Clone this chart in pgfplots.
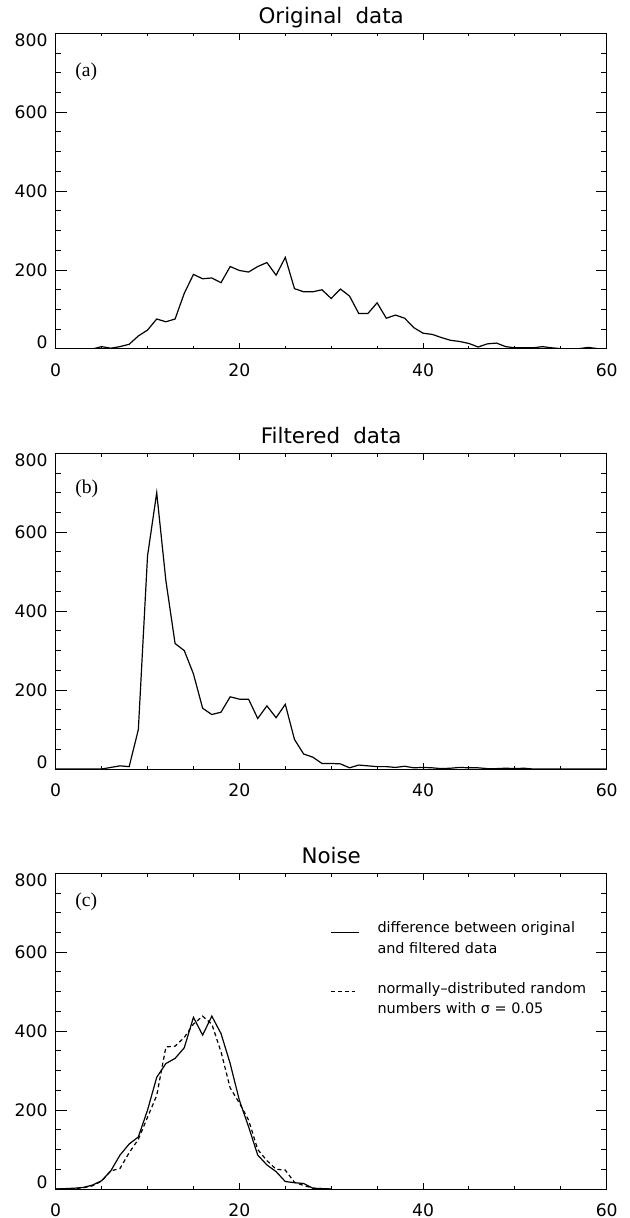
\documentclass[border=0pt]{standalone}
\usepackage{pgfplots}
\pgfplotsset{compat=1.18}
\usepackage{fontspec}
\setmainfont{DejaVu Sans}
\newfontfamily\timesfont{Liberation Serif}

% one pixel of the reference = 0.5pt
\pgfplotsset{
  idl/.style={
    scale only axis,
    width=275.5pt, height=157.85pt,
    anchor=south west,
    xmin=0, xmax=60, ymin=0, ymax=800,
    xtick={0,20,40,60}, ytick={0,200,400,600,800},
    minor x tick num=3, minor y tick num=3,
    tick align=inside, tick pos=both,
    axis line style={line width=0.5pt},
    tick style={black, line width=0.5pt},
    major tick length=5.5pt, minor tick length=2.75pt,
    major x tick style={/pgfplots/major tick length=3.15pt},
    minor x tick style={/pgfplots/minor tick length=1.6pt},
    /pgf/number format/assume math mode=true,
    tick label style={font=\fontsize{8.6}{10}\selectfont},
    xticklabel style={anchor=north, yshift=-3.9pt},
    yticklabel style={inner xsep=0pt, inner ysep=0pt, xshift=-3.9pt,
      anchor=\ifcase\ticknum south east\or east\or east\or east\else north east\fi},
    title style={font=\fontsize{10.7}{12}\selectfont, at={(0.5,1)}, anchor=base, yshift=-1pt},
  },
}
\tikzset{
  panel/.style={font=\timesfont\fontsize{9.8}{11}\selectfont, anchor=west, inner sep=0pt},
  leg/.style={font=\fontsize{7.2}{9}\selectfont, anchor=base west, inner sep=0pt},
}

\begin{document}
\begin{tikzpicture}
\useasboundingbox (0,0) rectangle (314.5pt,-609pt);

% (a) original data
\begin{axis}[idl, at={(27.85pt,-174.5pt)}, title={Original\hspace{0.3em} data}]
\addplot[black, line width=0.6pt] coordinates {
(0,0) (1,0) (2,0) (3,0) (4,0) (5,6) (6,2) (7,6) (8,12) (9,33) (10,48)
(11,76) (12,69) (13,76) (14,141) (15,189) (16,178) (17,180) (18,168) (19,209) (20,199)
(21,195) (22,209) (23,219) (24,187) (25,232) (26,153) (27,145) (28,145) (29,150) (30,128)
(31,152) (32,134) (33,90) (34,90) (35,117) (36,78) (37,86) (38,78) (39,54) (40,40)
(41,37) (42,29) (43,22) (44,19) (45,14) (46,5) (47,13) (48,15) (49,6) (50,3)
(51,3) (52,3) (53,6) (54,3) (55,1) (56,1) (57,1) (58,4) (59,1) (60,0)};
\node[panel] at (axis cs:2.1,703) {(a)};
\end{axis}

% (b) filtered data
\begin{axis}[idl, at={(27.85pt,-384.5pt)}, title={Filtered\hspace{0.3em} data}]
\addplot[black, line width=0.6pt] coordinates {
(0,0) (1,0) (2,0) (3,0) (4,0) (5,0) (6,4) (7,8) (8,6) (9,100) (10,540)
(11,700) (12,477) (13,318) (14,300) (15,241) (16,154) (17,138) (18,144) (19,183) (20,177)
(21,177) (22,128) (23,160) (24,130) (25,164) (26,75) (27,38) (28,30) (29,14) (30,14)
(31,13) (32,3) (33,10) (34,8) (35,6) (36,6) (37,4) (38,7) (39,3) (40,4)
(41,3) (42,1) (43,2) (44,4) (45,3) (46,3) (47,1) (48,1) (49,2) (50,1)
(51,2) (52,0) (53,0) (54,0) (55,0) (56,0) (57,0) (58,0) (59,0) (60,0)};
\node[panel] at (axis cs:2.1,711) {(b)};
\end{axis}

% (c) noise
\begin{axis}[idl, at={(27.85pt,-594.5pt)}, title={Noise}]
\addplot[black, line width=0.6pt] coordinates {
(0,0) (1,1) (2,2) (3,4) (4,10) (5,21) (6,46) (7,86) (8,114) (9,132) (10,200)
(11,283) (12,318) (13,331) (14,358) (15,435) (16,390) (17,438) (18,394) (19,318) (20,225)
(21,158) (22,86) (23,61) (24,44) (25,19) (26,16) (27,14) (28,2) (29,1) (30,0)};
\addplot[black, line width=0.6pt, dash pattern=on 2pt off 1.5pt] coordinates {
(0,0) (1,0) (2,1) (3,3) (4,8) (5,20) (6,46) (7,52) (8,92) (9,126) (10,182)
(11,237) (12,360) (13,362) (14,384) (15,418) (16,438) (17,418) (18,348) (19,256) (20,218)
(21,175) (22,100) (23,72) (24,50) (25,48) (26,17) (27,9) (28,2) (29,1) (30,0)};
\node[panel] at (axis cs:2.1,729) {(c)};
\draw[line width=0.6pt] (axis cs:29.95,649) -- (axis cs:33,649);
\draw[line width=0.6pt, dash pattern=on 2pt off 1.5pt] (axis cs:29.95,500) -- (axis cs:32.6,500);
\node[leg] at (axis cs:35,649) {difference between original};
\node[leg] at (axis cs:35,598) {and filtered data};
\node[leg] at (axis cs:35,496) {normally--distributed random};
\node[leg] at (axis cs:35,445) {numbers with σ = 0.05};
\end{axis}
\end{tikzpicture}
\end{document}
